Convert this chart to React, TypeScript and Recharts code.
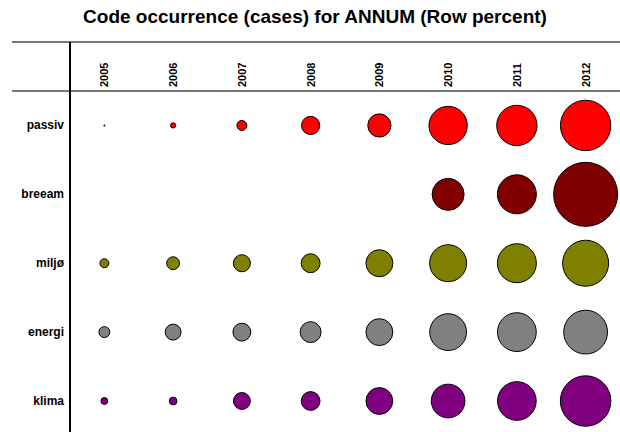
import React from "react";
import { ScatterChart, Scatter, XAxis, YAxis, ZAxis } from "recharts";

// years (columns) and codes (rows)
const years = ["2005", "2006", "2007", "2008", "2009", "2010", "2011", "2012"];
const codes = ["passiv", "breeam", "miljø", "energi", "klima"];
const colors = ["#ff0000", "#800000", "#808000", "#808080", "#800080"];

// row percent per code, one value per year
const passiv = [0.02, 0.4, 1.5, 5.0, 8.1, 22.1, 24.5, 38.3];
const breeam = [0, 0, 0, 0, 0, 15.4, 22.9, 61.7];
const miljo = [1.2, 2.5, 4.4, 5.4, 11.0, 20.6, 22.9, 31.9];
const energi = [1.8, 3.8, 4.8, 6.6, 10.9, 20.4, 22.7, 28.9];
const klima = [0.7, 0.9, 4.3, 5.3, 10.8, 17.1, 22.5, 38.4];

const rows = [passiv, breeam, miljo, energi, klima];

const FONT = "'Liberation Sans', Arial, sans-serif";

const YearTick = (props: any) => {
     const { x, y, payload } = props;
     return (
          <text
               transform={`translate(${x + 4},${y}) rotate(-90)`}
               textAnchor="start"
               fontFamily={FONT}
               fontWeight="bold"
               fontSize={11}
               fill="#000"
          >
               {years[payload.value]}
          </text>
     );
};

const CodeTick = (props: any) => {
     const { x, y, payload } = props;
     return (
          <text x={x} y={y + 4} textAnchor="end" fontFamily={FONT} fontWeight="bold" fontSize={12} fill="#000">
               {codes[payload.value]}
          </text>
     );
};

export default function App() {
     const series = rows.map((vals, r) =>
          vals
               .map((v, c) => ({ x: c, y: r, z: v }))
               .filter((d) => d.z > 0)
     );

     return (
          <div style={{ position: "absolute", left: 0, top: 0, width: 620, height: 432, background: "#fff" }}>
               <div
                    style={{
                         position: "absolute",
                         top: 6,
                         left: 10,
                         width: 610,
                         textAlign: "center",
                         fontFamily: FONT,
                         fontWeight: "bold",
                         fontSize: 19,
                    }}
               >
                    Code occurrence (cases) for ANNUM (Row percent)
               </div>
               {/* table frame */}
               <div style={{ position: "absolute", left: 12, top: 41, width: 608, height: 2, background: "#777" }} />
               <div style={{ position: "absolute", left: 12, top: 90, width: 608, height: 2, background: "#777" }} />
               <div style={{ position: "absolute", left: 69, top: 42, width: 1.5, height: 390, background: "#000" }} />
               <div style={{ position: "absolute", left: 0, top: 0 }}>
                    <ScatterChart width={620} height={432} margin={{ top: 42, right: 0, bottom: 0, left: 0 }}>
                         <XAxis
                              type="number"
                              dataKey="x"
                              orientation="top"
                              domain={[-0.5, 7.5]}
                              ticks={[0, 1, 2, 3, 4, 5, 6, 7]}
                              axisLine={false}
                              tickLine={false}
                              tickSize={0}
                              tickMargin={4}
                              height={49}
                              tick={<YearTick />}
                              allowDataOverflow
                         />
                         <YAxis
                              type="number"
                              dataKey="y"
                              domain={[-0.5, 4.45]}
                              ticks={[0, 1, 2, 3, 4]}
                              reversed
                              axisLine={false}
                              tickLine={false}
                              tickSize={0}
                              tickMargin={6}
                              width={70}
                              tick={<CodeTick />}
                              allowDataOverflow
                         />
                         <ZAxis type="number" dataKey="z" domain={[0, 100]} range={[0, 5214]} />
                         {series.map((data, i) => (
                              <Scatter
                                   key={codes[i]}
                                   name={codes[i]}
                                   data={data}
                                   fill={colors[i]}
                                   stroke="#000"
                                   strokeWidth={1}
                                   isAnimationActive={false}
                              />
                         ))}
                    </ScatterChart>
               </div>
          </div>
     );
}
